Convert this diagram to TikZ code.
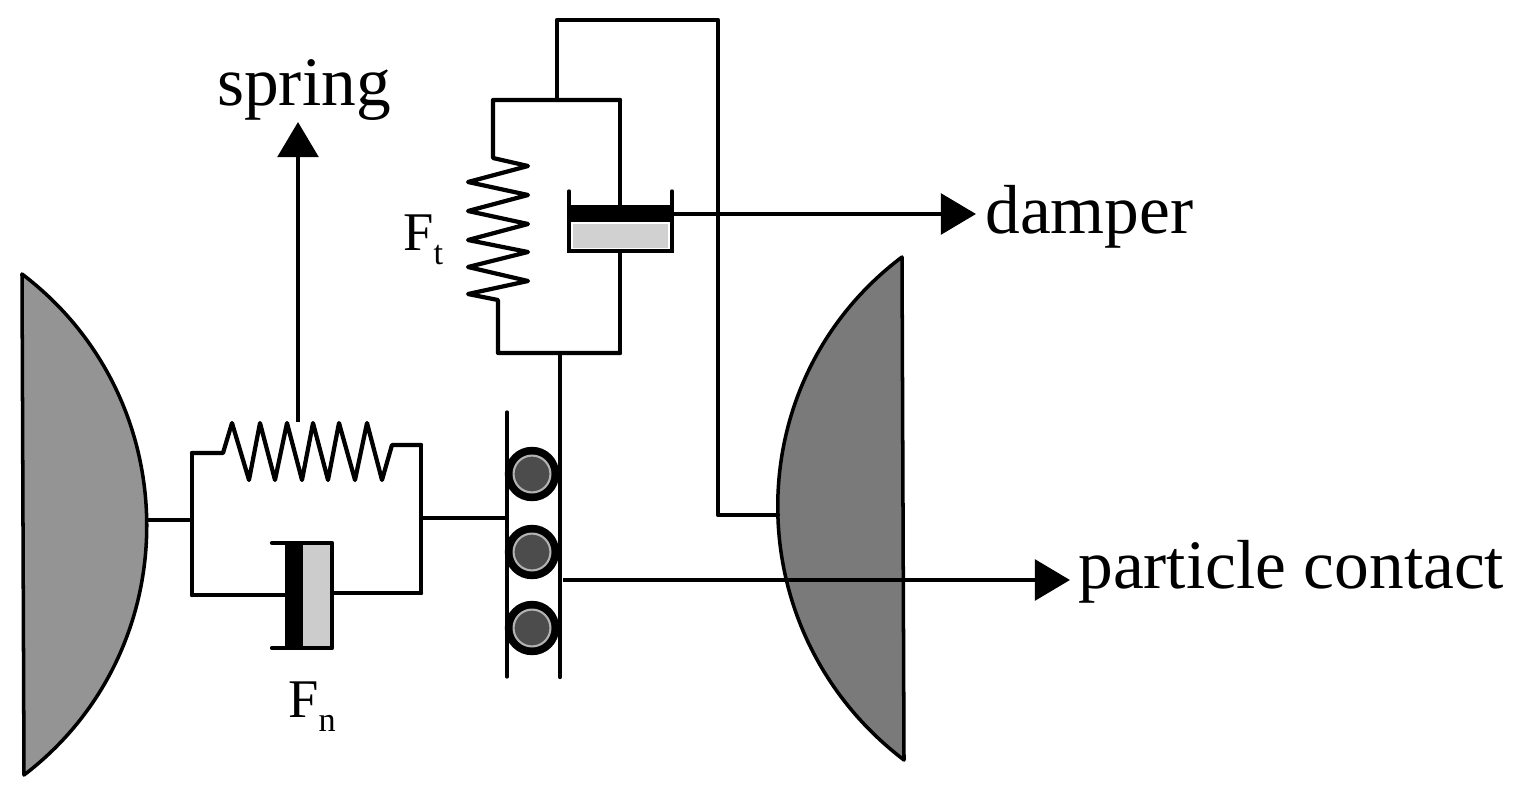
\documentclass[tikz,border=0pt]{standalone}
\usepackage{fontspec}
\usetikzlibrary{arrows.meta}
\newfontfamily\labelfont{Liberation Serif}
\newcommand{\sublabel}[2]{\labelfont\fontsize{31}{34}\selectfont #1\raisebox{-8.5pt}{\fontsize{19.5}{22}\selectfont #2}}

\begin{document}
\begin{tikzpicture}[
        x=0.02cm, y=-0.02cm,
        wire/.style={line width=2.4pt, line cap=round, line join=round},
        thinwire/.style={line width=1.9pt, line cap=round},
        bigarrow/.style={line width=2.8pt, -{Triangle[length=20pt,width=23pt]}},
        body/.style={draw=black, line width=2pt, line join=round},
        ball/.style={circle, fill=black, minimum size=31pt, inner sep=0pt},
        ballcore/.style={circle, draw=black!30, line width=1.2pt, fill=black!70, minimum size=21pt, inner sep=0pt},
        word/.style={inner sep=0pt, font=\labelfont\fontsize{39.5}{44}\selectfont}]

        \useasboundingbox (0,0) rectangle (1527,801);

        % particles
        \filldraw[body, fill=black!42] (22,274) .. controls (188,400) and (188,650) .. (24,775) -- cycle;
        \filldraw[body, fill=black!52] (902,257) .. controls (736,382) and (736,632) .. (904,760) -- cycle;

        \coordinate (LeftEdge) at (148,520);
        \coordinate (RightEdge) at (778,515);

        % normal part
        \coordinate (NL) at (192,520);
        \coordinate (NLT) at (192,453);
        \coordinate (NLB) at (192,595);
        \coordinate (NR) at (421,518);
        \coordinate (NRT) at (421,445);
        \coordinate (NRB) at (421,593);
        \coordinate (RailL) at (506,518);

        \draw[wire] (LeftEdge) -- (NL);
        \draw[wire] (NLT) -- (NLB);
        \draw[wire] (NRT) -- (NRB);
        \draw[wire] (NR) -- (RailL);
        \draw[wire] (NLT) -- (223,453) -- (232,423) -- (249,480) -- (260,423) -- (275,480)
            -- (287,423) -- (302,480) -- (313,423) -- (328,480) -- (339,423) -- (355,480)
            -- (367,423) -- (382,480) -- (392,445) -- (NRT);

        % normal damper
        \fill[black!20] (303,545) rectangle (331,646);
        \fill[black] (285,543) rectangle (303,648);
        \draw[wire] (272,543) -- (332,543) -- (332,648) -- (272,648);
        \draw[wire] (NLB) -- (285,595);
        \draw[wire] (332,593) -- (NRB);

        % tangential part
        \coordinate (TLT) at (493,100);
        \coordinate (TRT) at (620,100);
        \coordinate (TLB) at (498,353);
        \coordinate (TRB) at (620,353);
        \coordinate (TopA) at (557,100);
        \coordinate (TopB) at (557,20);
        \coordinate (TopC) at (718,20);
        \coordinate (TopD) at (718,515);
        \coordinate (RailTop) at (560,353);
        \coordinate (RailBot) at (560,677);

        \draw[wire] (TRT) -- (TLT) -- (493,158) -- (528,166) -- (468,182) -- (528,195) -- (468,211)
            -- (528,224) -- (468,240) -- (528,252) -- (468,267) -- (528,281) -- (468,294)
            -- (498,300) -- (TLB) -- (TRB);
        \draw[wire] (TopA) -- (TopB) -- (TopC) -- (TopD) -- (RightEdge);

        % tangential damper
        \fill[black!18] (573,224) rectangle (668,248);
        \fill[black] (570,205) rectangle (671,222);
        \draw[thinwire] (569,191) -- (569,251) -- (672,251) -- (672,191);
        \draw[wire] (TRT) -- (620,207);
        \draw[wire] (620,251) -- (TRB);

        % rails and contact balls
        \draw[thinwire] (507,412) -- (507,677);
        \draw[wire] (RailTop) -- (RailBot);
        \node[ball] (B1) at (532,474) {};
        \node[ball] (B2) at (532,552) {};
        \node[ball] (B3) at (532,628) {};
        \node[ballcore] (C1) at (B1) {};
        \node[ballcore] (C2) at (B2) {};
        \node[ballcore] (C3) at (B3) {};

        % labels
        \node[word, anchor=base] (Spring) at (304,105) {spring};
        \node[word, anchor=base west] (Damper) at (985,233) {damper};
        \node[word, anchor=base west] (Contact) at (1078,588) {particle contact};
        \node[inner sep=0pt, anchor=base west] (Ft) at (403,250) {\sublabel{F}{t}};
        \node[inner sep=0pt, anchor=base west] (Fn) at (288,717) {\sublabel{F}{n}};

        % arrows
        \coordinate (SpringFoot) at (298,422);
        \coordinate (SpringTip) at (298,122);
        \coordinate (DamperFoot) at (672,214);
        \coordinate (DamperTip) at (976,214);
        \coordinate (ContactFoot) at (563,580);
        \coordinate (ContactTip) at (1070,580);

        \draw[bigarrow] (SpringFoot) -- (SpringTip);
        \draw[bigarrow] (DamperFoot) -- (DamperTip);
        \draw[bigarrow] (ContactFoot) -- (ContactTip);

    \end{tikzpicture}
\end{document}
